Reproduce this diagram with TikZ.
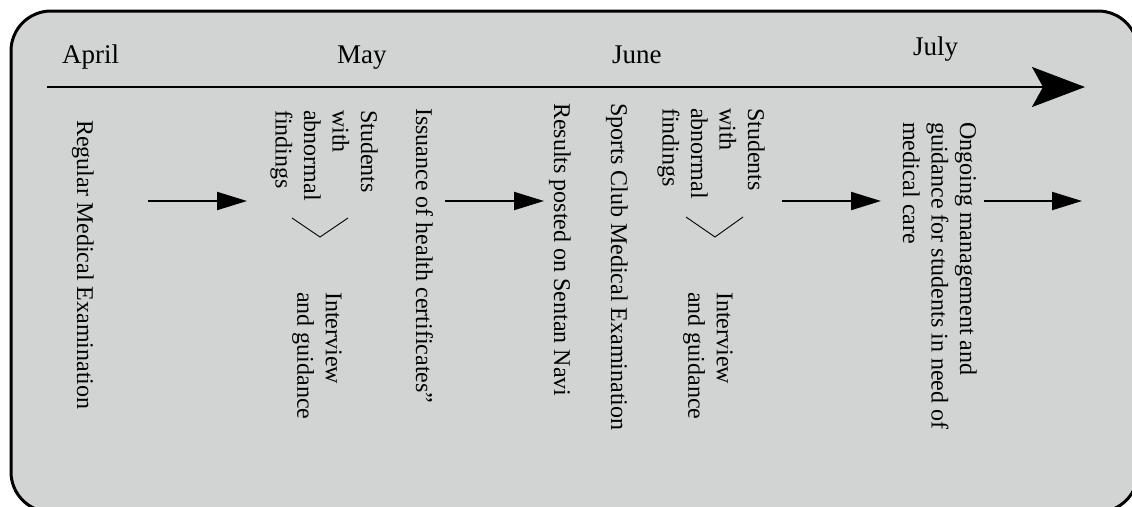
\documentclass[tikz,border=0pt]{standalone}
\usepackage{fontspec}
\setmainfont{Liberation Serif}
\usetikzlibrary{arrows.meta}
\definecolor{panelgray}{RGB}{210,211,211}
\begin{document}
\begin{tikzpicture}[x=1pt,y=-1pt,
  month/.style={font=\fontsize{27}{32}\selectfont, inner sep=0pt, anchor=base west},
  vtext/.style={font=\fontsize{24}{28.5}\selectfont, inner sep=0pt, rotate=-90, anchor=base west},
  vblock/.style={font=\fontsize{24}{28.5}\selectfont, inner sep=0pt, rotate=-90, anchor=north west, align=left},
  flow/.style={line width=2pt, -{Triangle[length=30pt,width=18pt]}},
  fork/.style={line width=0.9pt},
  timeline/.style={line width=2.2pt, -{Stealth[length=53pt,width=40pt,inset=11pt]}}]
\useasboundingbox (0,0) rectangle (1132,506);
\clip (0,0) rectangle (1132,506);

% background panel
\draw[line width=3pt, fill=panelgray, rounded corners=40pt] (11,11) rectangle (1138,512);

% time axis
\coordinate (axisstart) at (47,87);
\coordinate (axisend) at (1085,87);
\draw[timeline] (axisstart) -- (axisend);

% months
\node[month] (april) at (62,63) {April};
\node[month] (may)   at (337,63) {May};
\node[month] (june)  at (612,63) {June};
\node[month] (july)  at (913,55) {July};

% steps
\node[vtext] (regular)  at (77,120)  {Regular Medical Examination};
\node[vblock] (stud1)   at (378,110) {Students\\with\\abnormal\\findings};
\node[vblock] (int1)    at (342,292) {Interview\\and guidance};
\node[vtext] (issuance) at (416,108) {Issuance of health certificates”};
\node[vtext] (results)  at (554,103) {Results posted on Sentan Navi};
\node[vtext] (sports)   at (611,103) {Sports Club Medical Examination};
\node[vblock] (stud2)   at (765,108) {Students\\with\\abnormal\\findings};
\node[vblock] (int2)    at (733,292) {Interview\\and guidance};
\node[vblock] (ongoing) at (977,122) {Ongoing management and\\guidance for students in need of\\medical care};

% branch marks
\draw[fork] (292,218) -- (320,237) -- (348,218);
\draw[fork] (686,217) -- (715,237) -- (743,217);

% flow arrows
\coordinate (f1a) at (148,201); \coordinate (f1b) at (247,201);
\coordinate (f2a) at (445,201); \coordinate (f2b) at (544,201);
\coordinate (f3a) at (782,201); \coordinate (f3b) at (881,201);
\coordinate (f4a) at (984,201); \coordinate (f4b) at (1082,201);
\draw[flow] (f1a) -- (f1b);
\draw[flow] (f2a) -- (f2b);
\draw[flow] (f3a) -- (f3b);
\draw[flow] (f4a) -- (f4b);
\end{tikzpicture}
\end{document}
